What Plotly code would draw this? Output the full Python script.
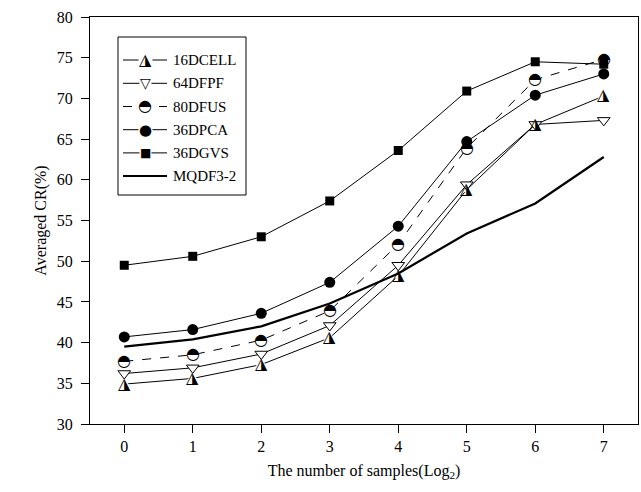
import plotly.graph_objects as go

x_vals = [0, 1, 2, 3, 4, 5, 6, 7]
dcell16 = [34.9, 35.6, 37.3, 40.6, 48.2, 58.8, 66.8, 70.3]
dfpf64 = [36.2, 36.9, 38.6, 42.1, 49.5, 59.4, 66.8, 67.3]
dfus80 = [37.7, 38.5, 40.3, 43.9, 52.1, 63.9, 72.3, 74.8]
dpca36 = [40.7, 41.6, 43.6, 47.4, 54.3, 64.7, 70.4, 73.0]
dgvs36 = [49.5, 50.6, 53.0, 57.4, 63.6, 70.9, 74.5, 74.2]
mqdf = [39.5, 40.4, 42.0, 44.8, 48.5, 53.4, 57.1, 62.8]
names = ["16DCELL", "64DFPF", "80DFUS", "36DPCA", "36DGVS", "MQDF3-2"]

y_ticks = [30, 35, 40, 45, 50, 55, 60, 65, 70, 75, 80]

FONT = "Liberation Serif"
GLYPH_FONT = "DejaVu Sans"
W, H = 641, 492
ML, MR, MT, MB = 90, 3, 17, 68
PW, PH = W - ML - MR, H - MT - MB


def px2paper(px, py):
    return (px - ML) / PW, (H - MB - py) / PH


fig = go.Figure()

# 16DCELL: triangle with right half black (white base marker + glyph)
fig.add_trace(go.Scatter(x=x_vals, y=dcell16, name=names[0], mode="lines+markers",
                         line=dict(color="black", width=1),
                         marker=dict(symbol="triangle-up", size=11, color="white",
                                     line=dict(width=0))))
# 64DFPF
fig.add_trace(go.Scatter(x=x_vals, y=dfpf64, name=names[1], mode="lines+markers",
                         line=dict(color="black", width=1),
                         marker=dict(symbol="triangle-down", size=11, color="white",
                                     line=dict(color="black", width=1))))
# 80DFUS: circle with upper half black
fig.add_trace(go.Scatter(x=x_vals, y=dfus80, name=names[2], mode="lines+markers",
                         line=dict(color="black", width=1, dash="dash"),
                         marker=dict(symbol="circle", size=12, color="white",
                                     line=dict(width=0))))
# 36DPCA
fig.add_trace(go.Scatter(x=x_vals, y=dpca36, name=names[3], mode="lines+markers",
                         line=dict(color="black", width=1),
                         marker=dict(symbol="circle", size=11, color="black")))
# 36DGVS
fig.add_trace(go.Scatter(x=x_vals, y=dgvs36, name=names[4], mode="lines+markers",
                         line=dict(color="black", width=1),
                         marker=dict(symbol="square", size=9, color="black")))
# MQDF3-2
fig.add_trace(go.Scatter(x=x_vals, y=mqdf, name=names[5], mode="lines",
                         line=dict(color="black", width=2.2)))

TRI_GLYPH, TRI_SIZE, TRI_SHIFT = "\u25ee", 16, 1
CIR_GLYPH, CIR_SIZE, CIR_SHIFT = "\u25d3", 16, 1
annotations = []
for xv, yv in zip(x_vals, dcell16):
    annotations.append(dict(x=xv, y=yv, xref="x", yref="y", text=TRI_GLYPH,
                            showarrow=False, yshift=TRI_SHIFT, xanchor="center", yanchor="middle",
                            font=dict(family=GLYPH_FONT, size=TRI_SIZE, color="black")))
for xv, yv in zip(x_vals, dfus80):
    annotations.append(dict(x=xv, y=yv, xref="x", yref="y", text=CIR_GLYPH,
                            showarrow=False, yshift=CIR_SHIFT, xanchor="center", yanchor="middle",
                            font=dict(family=GLYPH_FONT, size=CIR_SIZE, color="black")))

# manual legend (box, sample lines, markers, labels)
shapes = []
bx0, by0 = px2paper(118, 37)
bx1, by1 = px2paper(246, 195)
shapes.append(dict(type="rect", xref="paper", yref="paper", x0=bx0, x1=bx1, y0=by1, y1=by0,
                   line=dict(color="black", width=1), fillcolor="white", layer="above"))
row_y = [60, 83.3, 106.5, 129.7, 152.9, 176]
leg_markers = [(TRI_GLYPH, TRI_SIZE, TRI_SHIFT), ("\u25bd", 14, 0), (CIR_GLYPH, CIR_SIZE, CIR_SHIFT),
               ("\u25cf", 15, 0), ("\u25a0", 12, 0), None]
leg_dash = ["solid", "solid", "dash", "solid", "solid", "solid"]
leg_width = [1, 1, 1, 1, 1, 2.2]
for name, ry, mk, dash, lw in zip(names, row_y, leg_markers, leg_dash, leg_width):
    lx0, ly = px2paper(123, ry)
    lx1, _ = px2paper(167, ry)
    shapes.append(dict(type="line", xref="paper", yref="paper", x0=lx0, x1=lx1, y0=ly, y1=ly,
                       line=dict(color="black", width=lw, dash=dash), layer="above"))
    if mk is not None:
        mx, _ = px2paper(145, ry)
        annotations.append(dict(x=mx, y=ly, xref="paper", yref="paper", text=mk[0],
                                showarrow=False, yshift=mk[2], bgcolor="white", borderpad=0,
                                xanchor="center", yanchor="middle",
                                font=dict(family=GLYPH_FONT, size=mk[1], color="black")))
    tx, _ = px2paper(171, ry)
    annotations.append(dict(x=tx, y=ly, xref="paper", yref="paper", text=name,
                            showarrow=False, xanchor="left", yanchor="middle",
                            font=dict(family=FONT, size=15, color="black")))

axis_common = dict(showline=True, linecolor="black", linewidth=1.3, mirror=True,
                   ticks="outside", ticklen=8, tickwidth=1.3, tickcolor="black",
                   showgrid=False, zeroline=False,
                   tickfont=dict(family=FONT, size=16, color="black"))
fig.update_xaxes(range=[-0.5, 7.5], tickvals=x_vals,
                 title=dict(text="The number of samples(Log<sub>2</sub>)",
                            font=dict(family=FONT, size=16, color="black"), standoff=10),
                 **axis_common)
fig.update_yaxes(range=[30, 80], tickvals=y_ticks, ticklabelstandoff=5,
                 title=dict(text="Averaged CR(%)",
                            font=dict(family=FONT, size=16, color="black"), standoff=6),
                 **axis_common)
fig.update_layout(
    width=W, height=H,
    margin=dict(l=ML, r=MR, t=MT, b=MB),
    plot_bgcolor="white", paper_bgcolor="white",
    font=dict(family=FONT, color="black"),
    showlegend=False,
    shapes=shapes,
    annotations=annotations,
)
fig.write_html("out.html", config={"displayModeBar": False},
               post_script="document.body.style.margin='0';document.body.style.overflow='hidden';")
